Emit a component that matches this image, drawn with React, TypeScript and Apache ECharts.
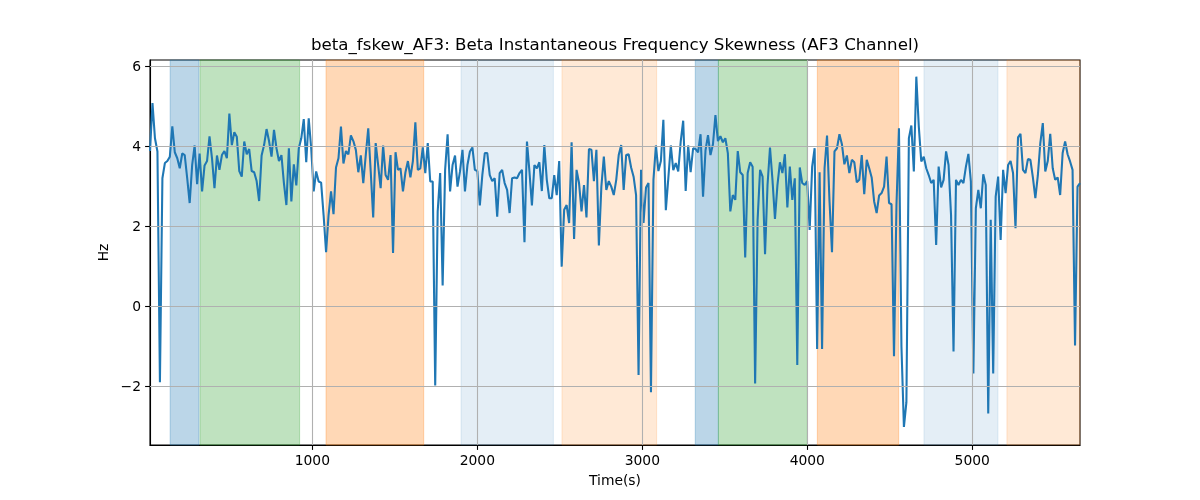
import React, { useEffect, useRef } from 'react';
import * as echarts from 'echarts';

// Time range of the samples (seconds)
const T_START = 16;
const T_END = 5653;

// Beta instantaneous frequency skewness (Hz), evenly sampled from T_START to T_END
const skewValues: number[] = [
  3.88, 5.08, 4.2, 3.87, -1.9, 3.2, 3.58, 3.63, 3.74, 4.5, 3.85, 3.7, 3.45, 3.82, 3.78, 3.2, 2.58, 3.53, 4.02, 3.05,
  3.82, 2.87, 3.52, 3.63, 4.25, 3.7, 2.95, 3.77, 3.41, 3.78, 3.88, 3.7, 4.82, 4.03, 4.35, 4.24, 3.38, 3.24, 4.12, 3.8,
  3.93, 3.38, 3.35, 3.13, 2.63, 3.77, 4.03, 4.43, 4.13, 3.74, 4.41, 3.95, 3.63,
  3.78, 3.08, 2.53, 3.95, 2.62, 3.55, 3.02, 3.95, 4.2, 4.68, 3.6, 4.7, 3.95, 2.87, 3.37, 3.12, 3.09, 2.28, 1.35, 2.28,
  2.87, 2.3, 3.47, 3.7, 4.49, 3.57, 3.88, 3.8, 4.27, 4.13, 3.91, 3.35, 3.77, 3.08, 3.78, 4.45, 3.37, 2.22, 4.08, 3.53,
  2.95, 4.02, 3.28, 3.16, 3.78, 1.33, 3.85, 3.41, 3.45, 2.87, 3.35, 3.63, 3.22,
  3.63, 4.6, 3.41, 3.45, 3.97, 3.33, 4.08, 3.12, 3.12, -1.98, 2.37, 3.33, 0.52, 3.41, 4.3, 2.87, 3.53, 3.77, 2.99, 3.37,
  3.91, 2.87, 3.53, 3.87, 3.97, 3.41, 3.38, 2.52, 3.28, 3.83, 3.83, 3.28, 3.13, 3.2, 2.24, 3.33, 3.41, 3.08, 2.91, 2.33,
  3.2, 3.22, 3.2, 3.33, 3.41, 1.6, 4.12, 3.37, 2.52, 3.53, 3.45, 3.6, 2.88,
  4.03, 3.16, 2.7, 2.7, 3.28, 2.78, 3.63, 0.99, 2.41, 2.53, 2.08, 4.1, 1.68, 3.41, 3.08, 2.37, 3.03, 2.22, 3.93, 3.91,
  3.13, 3.91, 1.52, 2.99, 3.74, 2.91, 3.13, 2.99, 2.78, 3.16, 3.78, 4.03, 2.91, 3.78, 3.8, 3.47, 3.24, 2.78, -1.72, 3.41,
  2.08, 2.97, 3.08, -2.15, 3.16, 4.02, 3.38, 3.63, 4.66, 2.4, 3.2, 4.02,
  3.4, 3.58, 3.37, 4.12, 4.64, 2.88, 4.02, 3.35, 3.95, 3.93, 3.85, 4.3, 2.74, 3.9, 4.28, 3.78, 4.05, 4.78, 4.13, 4.25,
  4.1, 4.2, 3.83, 2.37, 2.78, 2.66, 3.88, 3.35, 3.28, 1.22, 3.33, 3.6, 3.49, -1.93, 2.16, 3.41, 3.24, 1.3, 3.03, 3.97,
  3.16, 2.18, 3.03, 3.6, 3.33, 3.8, 2.47, 3.49, 2.66, 3.2, -1.47, 3.47, 3.08,
  3.03, 3.13, 1.91, 3.49, 3.95, -1.07, 3.35, -1.07, 3.45, 4.27, 2.62, 1.35, 3.87, 3.95, 4.3, 4.05, 3.55, 3.77, 3.33, 3.66,
  3.6, 3.1, 3.16, 3.78, 2.8, 3.66, 3.45, 3.22, 2.62, 2.33, 2.77, 2.83, 2.99, 3.74, 2.58, 2.55, -1.25, 2.53, 4.45, -1.0,
  -3.02, -2.4, 4.2, 4.52, 3.37, 5.74, 4.49, 3.62, 3.74, 3.45, 3.28, 3.08,
  3.16, 1.53, 3.49, 2.97, 3.16, 3.87, 3.53, 2.28, -1.13, 3.16, 3.03, 3.16, 3.08, 3.49, 3.81, 3.12, -1.68, 2.45, 2.91, 2.45,
  3.3, 3.03, -2.68, 2.16, -1.68, 2.74, 3.24, 1.66, 3.41, 2.83, 3.53, 3.63, 3.33, 1.95, 4.22, 4.31, 3.41, 3.33, 3.68, 3.66,
  3.22, 2.7, 3.27, 4.08, 4.58, 3.37, 3.63, 4.31, 3.45, 3.16, 3.22, 2.78, 3.83, 4.12, 3.8, 3.62, 3.41, -0.98, 2.99, 3.08,
];

const xTicks = [1000, 2000, 3000, 4000, 5000];
const yTicks = [-2, 0, 2, 4, 6];

// Shaded intervals (seconds)
const spanStarts = [138, 319, 1083, 1901, 2513, 3321, 3461, 4061, 4707, 5210];
const spanEnds = [313, 923, 1675, 2461, 3087, 3461, 4000, 4554, 5156, 5653];
const spanKinds = ['blue', 'green', 'orange', 'lightblue', 'lightorange', 'blue', 'green', 'orange', 'lightblue', 'lightorange'];

const KIND_COLORS: Record<string, string> = {
  blue: 'rgba(31,119,180,0.3)',
  green: 'rgba(44,160,44,0.3)',
  orange: 'rgba(255,127,14,0.3)',
  lightblue: 'rgba(31,119,180,0.12)',
  lightorange: 'rgba(255,127,14,0.17)',
};

const FONT = 'DejaVu Sans';

export default function App() {
  const ref = useRef<HTMLDivElement>(null);
  useEffect(() => {
    const chart = echarts.init(ref.current as HTMLDivElement, null, { renderer: 'svg' });
    const step = (T_END - T_START) / (skewValues.length - 1);
    const points = skewValues.map((v, i) => [T_START + i * step, v]);
    const minus = (v: number) => String(v).replace('-', '\u2212');

    chart.setOption({
      animation: false,
      textStyle: { fontFamily: FONT },
      title: {
        text: 'beta_fskew_AF3: Beta Instantaneous Frequency Skewness (AF3 Channel)',
        left: 610,
        top: 31,
        textAlign: 'center',
        textStyle: { fontSize: 16.67, fontWeight: 'normal', color: '#000', fontFamily: FONT },
      },
      grid: {
        left: 150,
        right: 120,
        top: 60,
        bottom: 55,
        show: true,
        borderColor: '#000',
        borderWidth: 1.1,
        backgroundColor: 'rgba(0,0,0,0)',
      },
      xAxis: {
        type: 'value',
        min: T_START,
        max: T_END,
        name: 'Time(s)',
        nameLocation: 'middle',
        nameGap: 28,
        nameTextStyle: { fontSize: 13.89, color: '#000', fontFamily: FONT },
        axisLine: { show: true, onZero: false, lineStyle: { color: '#000', width: 1.1 } },
        axisTick: { show: true, length: 4.9, lineStyle: { color: '#000', width: 1.1 }, customValues: xTicks },
        axisLabel: { customValues: xTicks, margin: 8, fontSize: 13.89, color: '#000', fontFamily: FONT, formatter: (v: number) => String(v) },
        splitLine: { show: false },
      },
      yAxis: {
        type: 'value',
        min: -3.47,
        max: 6.157,
        name: 'Hz',
        nameLocation: 'middle',
        nameGap: 35,
        nameRotate: 90,
        nameTextStyle: { fontSize: 13.89, color: '#000', fontFamily: FONT },
        axisLine: { show: true, onZero: false, lineStyle: { color: '#000', width: 1.1 } },
        axisTick: { show: true, length: 4.9, lineStyle: { color: '#000', width: 1.1 }, customValues: yTicks },
        axisLabel: { customValues: yTicks, margin: 9, fontSize: 13.89, color: '#000', fontFamily: FONT, formatter: minus },
        splitLine: { show: false },
      },
      series: [
        {
          type: 'line',
          data: points,
          symbol: 'none',
          silent: true,
          z: 1,
          lineStyle: { opacity: 0 },
          markArea: {
            silent: true,
            data: spanStarts.map((s, i) => [
              {
                xAxis: s,
                itemStyle: { color: KIND_COLORS[spanKinds[i]], borderColor: KIND_COLORS[spanKinds[i]], borderWidth: 1 },
              },
              { xAxis: spanEnds[i] },
            ]),
          },
        },
        {
          type: 'line',
          data: points,
          symbol: 'none',
          silent: true,
          z: 2,
          lineStyle: { opacity: 0 },
          markLine: {
            silent: true,
            symbol: ['none', 'none'],
            label: { show: false },
            lineStyle: { color: '#b0b0b0', width: 1.1, type: 'solid' },
            data: [...xTicks.map((x) => ({ xAxis: x })), ...yTicks.map((y) => ({ yAxis: y }))],
          },
        },
        {
          type: 'line',
          data: points,
          symbol: 'none',
          z: 3,
          lineStyle: { color: '#1f77b4', width: 2.08 },
          itemStyle: { color: '#1f77b4' },
        },
      ],
    });
    return () => chart.dispose();
  }, []);
  return <div ref={ref} style={{ position: 'fixed', left: 0, top: 0, width: 1200, height: 500 }} />;
}
